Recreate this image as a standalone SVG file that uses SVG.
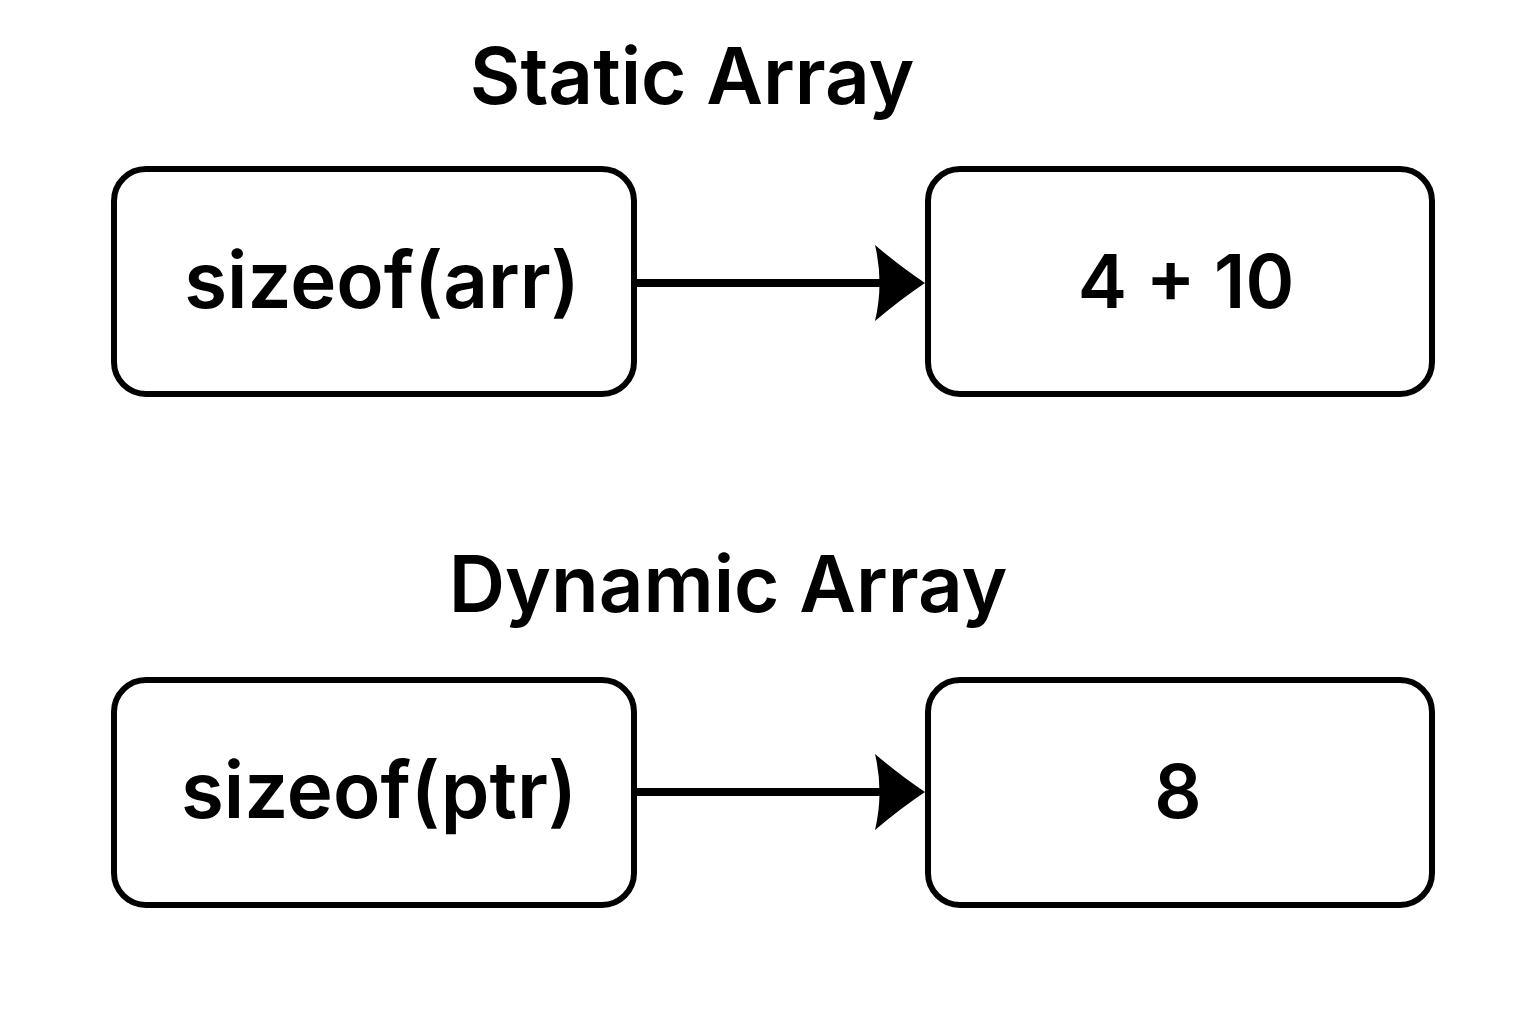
<svg xmlns="http://www.w3.org/2000/svg" width="1536" height="1024" viewBox="0 0 1536 1024">
<defs>
<style>
.box{fill:#fff;stroke:#000;stroke-width:6}
.t{font-family:Inter,"Liberation Sans",sans-serif;font-weight:600;fill:#000;text-anchor:middle}
.title{font-size:78px}
.lbl{font-size:78px}
.num{font-size:74px}
.conn{stroke:#000;stroke-width:8;fill:none}
</style>
<marker id="ah" markerUnits="userSpaceOnUse" markerWidth="60" markerHeight="80" refX="9" refY="38" orient="auto" overflow="visible">
<path d="M0,0 Q26,22 50,38 Q26,54 0,76 Q9,38 0,0 Z" fill="#000"/>
</marker>
</defs>
<rect width="1536" height="1024" fill="#fff"/>
<text class="t title" x="692" y="104">Static Array</text>
<text class="t title" x="728" y="612">Dynamic Array</text>
<g id="node-sizeof-arr"><rect class="box" x="114" y="169" width="520" height="225" rx="32"/><text class="t lbl" x="382" y="308">sizeof(arr)</text></g>
<g id="node-4x10"><rect class="box" x="928" y="169" width="504" height="225" rx="32"/><text class="t num" x="1186" y="308">4 + 10</text></g>
<g id="node-sizeof-ptr"><rect class="box" x="114" y="680" width="520" height="225" rx="32"/><text class="t lbl" x="379" y="818">sizeof(ptr)</text></g>
<g id="node-8"><rect class="box" x="928" y="680" width="504" height="225" rx="32"/><text class="t num" x="1178" y="818">8</text></g>
<g id="connectors">
<line class="conn" x1="637" y1="283" x2="884" y2="283" marker-end="url(#ah)"/>
<line class="conn" x1="637" y1="792" x2="884" y2="792" marker-end="url(#ah)"/>
</g>
</svg>
